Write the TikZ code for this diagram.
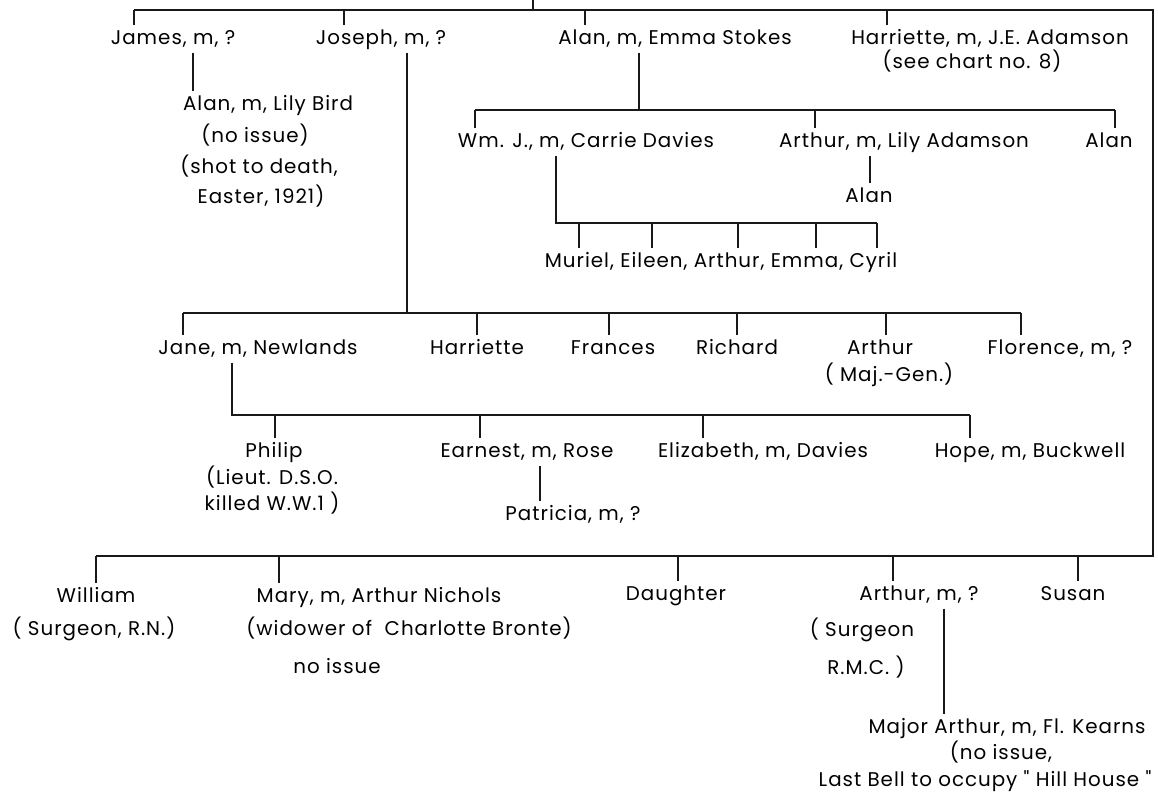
\documentclass[tikz,border=0pt]{standalone}
\usepackage{fontspec}
\newfontfamily\chartfont{Poppins}[LetterSpace=5]
\begin{document}
\begin{tikzpicture}[
    x=0.02cm, y=-0.02cm,
    person/.style={inner sep=2.5pt, text height=8pt, text depth=2.2pt, font={\fontsize{11.3}{13}\chartfont}},
    line/.style={line width=0.8pt, color=black!90}
]
\useasboundingbox (0,0) rectangle (1158,805);

% --- Children of the top line ---
\node[person] (james)     at (173,39)  {James, m, ?};
\node[person] (joseph)    at (381,39)  {Joseph, m, ?};
\node[person] (alanE)     at (675,39)  {Alan, m, Emma Stokes};
\node[person] (harriette) at (990,39)  {Harriette, m, J.E. Adamson};
\node[person] (harrietteNote) at (972,63) {(see chart no. 8)};

% --- James's line ---
\node[person] (alanL)  at (268,105) {Alan, m, Lily Bird};
\node[person] (alanLa) at (255,137) {(no issue)};
\node[person] (alanLb) at (259,168) {(shot to death,};
\node[person] (alanLc) at (261,198) {Easter, 1921)};

% --- Alan and Emma Stokes ---
\node[person] (wmj)     at (586,142) {Wm. J., m, Carrie Davies};
\node[person] (arthurL) at (904,142) {Arthur, m, Lily Adamson};
\node[person] (alanR)   at (1109,142) {Alan};
\node[person] (alanS)   at (869,197) {Alan};
\node[person] (wmjKids) at (721,262) {Muriel, Eileen, Arthur, Emma, Cyril};

% --- Joseph's line ---
\node[person] (jane)        at (258,349) {Jane, m, Newlands};
\node[person] (harrietteJ)  at (477,349) {Harriette};
\node[person] (frances)     at (613,349) {Frances};
\node[person] (richard)     at (737,349) {Richard};
\node[person] (arthurJ)     at (880,349) {Arthur};
\node[person] (arthurJNote) at (889,376) {( Maj.-Gen.)};
\node[person] (florence)    at (1060,349) {Florence, m, ?};

% --- Jane and Newlands ---
\node[person] (philip)    at (274,452) {Philip};
\node[person] (philipA)   at (272,479) {(Lieut. D.S.O.};
\node[person] (philipB)   at (272,505) {killed W.W.1 )};
\node[person] (earnest)   at (527,452) {Earnest, m, Rose};
\node[person] (patricia)  at (573,515) {Patricia, m, ?};
\node[person] (elizabeth) at (763,452) {Elizabeth, m, Davies};
\node[person] (hope)      at (1030,452) {Hope, m, Buckwell};

% --- Lower line ---
\node[person] (william)     at (96,597)  {William};
\node[person] (williamNote) at (94,630)  {( Surgeon, R.N.)};
\node[person] (mary)        at (379,597) {Mary, m, Arthur Nichols};
\node[person] (maryA)       at (409,630) {(widower of\ \ Charlotte Bronte)};
\node[person] (maryB)       at (337,668) {no issue};
\node[person] (daughter)    at (676,595) {Daughter};
\node[person] (arthurB)     at (919,595) {Arthur, m, ?};
\node[person] (arthurBa)    at (862,631) {( Surgeon};
\node[person] (arthurBb)    at (866,669) {R.M.C. )};
\node[person] (susan)       at (1073,595) {Susan};
\node[person] (major)       at (1007,728) {Major Arthur, m, Fl. Kearns};
\node[person] (majorA)      at (1001,754) {(no issue,};
\node[person] (majorB)      at (985,781)  {Last Bell to occupy " Hill House "};

% --- Lines ---
\coordinate (parent) at (533,0);
\coordinate (topL) at (134,10);
\coordinate (topR) at (1153,10);
\coordinate (lowL) at (96,556);
\draw[line] (parent) -- (parent |- topL);
\draw[line] (topL) -- (topR) |- (lowL);
\foreach \x/\n in {134/james, 344/joseph, 585/alanE, 887/harriette}
    \draw[line] (\x,10) -- (\x,0 |- \n.north);
\foreach \x/\n in {96/william, 279/mary, 678/daughter, 893/arthurB, 1078/susan}
    \draw[line] (\x,556) -- (\x,0 |- \n.north);

\draw[line] (193,0 |- james.south) -- (193,0 |- alanL.north);

\draw[line] (639,0 |- alanE.south) -- (639,110);
\draw[line] (475,110) -- (1115,110);
\foreach \x/\n in {475/wmj, 815/arthurL, 1115/alanR}
    \draw[line] (\x,110) -- (\x,0 |- \n.north);
\draw[line] (870,0 |- arthurL.south) -- (870,0 |- alanS.north);
\draw[line] (556,0 |- wmj.south) -- (556,223) -- (877,223);
\foreach \x in {579, 652, 738, 816, 877}
    \draw[line] (\x,223) -- (\x,0 |- wmjKids.north);

\draw[line] (407,0 |- joseph.south) -- (407,313);
\draw[line] (183,313) -- (1021,313);
\foreach \x/\n in {183/jane, 477/harrietteJ, 609/frances, 737/richard, 886/arthurJ, 1021/florence}
    \draw[line] (\x,313) -- (\x,0 |- \n.north);

\draw[line] (232,0 |- jane.south) -- (232,415) -- (970,415);
\foreach \x/\n in {275/philip, 480/earnest, 703/elizabeth, 970/hope}
    \draw[line] (\x,415) -- (\x,0 |- \n.north);
\draw[line] (540,0 |- earnest.south) -- (540,0 |- patricia.north);

\draw[line] (944,0 |- arthurB.south) -- (944,0 |- major.north);

\end{tikzpicture}
\end{document}
